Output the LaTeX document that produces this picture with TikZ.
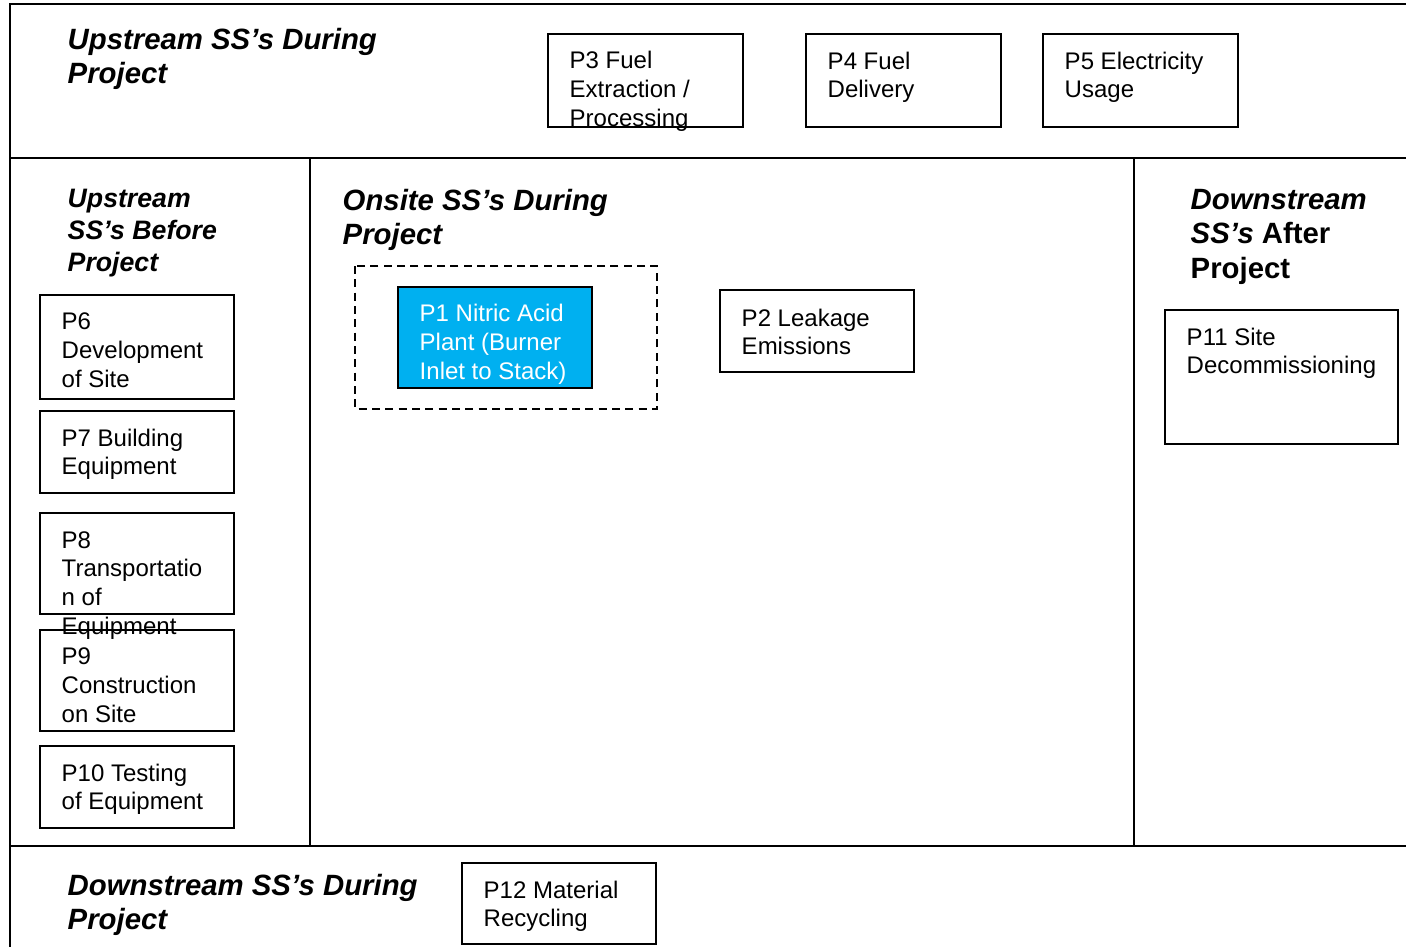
\documentclass[tikz,border=0pt]{standalone}
\usepackage{fontspec}
\setmainfont{Liberation Sans}
\usepackage{tikz}

\definecolor{plantblue}{RGB}{0,176,240}

\begin{document}
\begin{tikzpicture}[x=0.75pt,y=0.75pt,yscale=-1,xscale=1,
  every path/.style={line width=1.1pt},
  boxtext/.style={anchor=base west,inner sep=0pt,align=left,font=\fontsize{18}{21.5}\selectfont},
  headtext/.style={anchor=base west,inner sep=0pt,align=left,font=\fontsize{22}{25.8}\selectfont\bfseries}]
\useasboundingbox (0,0) rectangle (1406,947);
%text nodes are placed at the baseline of their last line

%Shape: Frame
\draw   (1406,4) -- (10,4) -- (10,947) ;
%Straight Lines
\draw   (10,158) -- (1406,158) ;
\draw   (10,846) -- (1406,846) ;
\draw   (310,158) -- (310,846) ;
\draw   (1134,158) -- (1134,846) ;

%Shape: Rectangle (upstream during)
\draw   (548,34) rectangle (743,127) ;
\draw   (806,34) rectangle (1001,127) ;
\draw   (1043,34) rectangle (1238,127) ;
%Shape: Rectangle (upstream before)
\draw   (40,295) rectangle (234,399) ;
\draw   (40,411) rectangle (234,493) ;
\draw   (40,513) rectangle (234,614) ;
\draw   (40,630) rectangle (234,731) ;
\draw   (40,746) rectangle (234,828) ;
%Shape: Rectangle (onsite)
\draw [dashed,dash pattern=on 6pt off 4pt]  (355,266) rectangle (657,409) ;
\draw [fill=plantblue]  (398,287) rectangle (592,388) ;
\draw   (720,290) rectangle (914,372) ;
%Shape: Rectangle (downstream)
\draw   (1165,310) rectangle (1398,444) ;
\draw   (462,863) rectangle (656,944) ;

% Text Node
\node (upDuring) at (67,83.9) [headtext] {\itshape Upstream SS’s During\\\itshape Project};
% Text Node
\node (upBefore) at (67,271.5) [headtext,font=\fontsize{20}{24}\selectfont\bfseries] {\itshape Upstream\\\itshape SS’s Before\\\itshape Project};
% Text Node
\node (onDuring) at (342,244.9) [headtext] {\itshape Onsite SS’s During\\\itshape Project};
% Text Node
\node (downAfter) at (1190,278.3) [headtext] {\itshape Downstream\\\textit{SS’s} After\\Project};
% Text Node
\node (downDuring) at (67,929.9) [headtext] {\itshape Downstream SS’s During\\\itshape Project};

% Text Node
\node (p3) at (569,126.3) [boxtext] {P3 Fuel\\Extraction /\\Processing};
% Text Node
\node (p4) at (827,97.7) [boxtext] {P4 Fuel\\Delivery};
% Text Node
\node (p5) at (1064,97.7) [boxtext] {P5 Electricity\\Usage};
% Text Node
\node (p6) at (61,387.3) [boxtext] {P6\\Development\\of Site};
% Text Node
\node (p7) at (61,474.7) [boxtext] {P7 Building\\Equipment};
% Text Node
\node (p8) at (61,634) [boxtext] {P8\\Transportatio\\n of\\Equipment};
% Text Node
\node (p9) at (61,722.3) [boxtext] {P9\\Construction\\on Site};
% Text Node
\node (p10) at (61,809.7) [boxtext] {P10 Testing\\of Equipment};
% Text Node
\node (p1) at (419,379.3) [boxtext,text=white] {P1 Nitric Acid\\Plant (Burner\\Inlet to Stack)};
% Text Node
\node (p2) at (741,354.7) [boxtext] {P2 Leakage\\Emissions};
% Text Node
\node (p11) at (1186,373.7) [boxtext] {P11 Site\\Decommissioning};
% Text Node
\node (p12) at (483,926.7) [boxtext] {P12 Material\\Recycling};
\end{tikzpicture}
\end{document}
